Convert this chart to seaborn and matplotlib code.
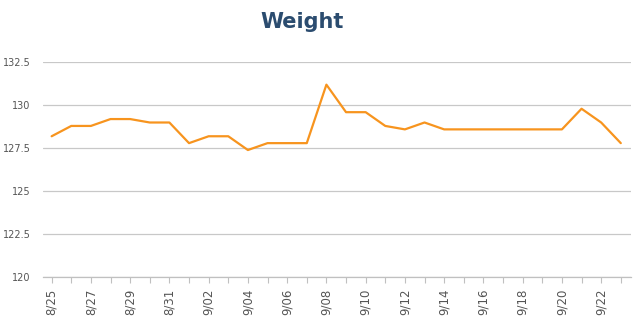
import matplotlib
matplotlib.use("Agg")
import matplotlib.pyplot as plt
import seaborn as sns
import pandas as pd
import numpy as np

dates = ["8/25", "8/26", "8/27", "8/28", "8/29", "8/30", "8/31", "9/01", "9/02", "9/03",
         "9/04", "9/05", "9/06", "9/07", "9/08", "9/09", "9/10", "9/11", "9/12", "9/13",
         "9/14", "9/15", "9/16", "9/17", "9/18", "9/19", "9/20", "9/21", "9/22", "9/23"]
weight = [128.2, 128.8, 128.8, 129.2, 129.2, 129.0, 129.0, 127.8, 128.2, 128.2,
          127.4, 127.8, 127.8, 127.8, 131.2, 129.6, 129.6, 128.8, 128.6, 129.0,
          128.6, 128.6, 128.6, 128.6, 128.6, 128.6, 128.6, 129.8, 129.0, 127.8]
yticks = [120, 122.5, 125, 127.5, 130, 132.5]
ytick_labels = ["120", "122.5", "125", "127.5", "130", "132.5"]

df = pd.DataFrame({"idx": range(len(dates)), "date": dates, "weight": weight})

sns.set_theme(style="white")
plt.rcParams["font.family"] = ["DejaVu Sans"]

fig = plt.figure(figsize=(6.39, 3.24), dpi=100)
ax = fig.add_axes([43 / 639, 1 - 277.3 / 324, (631 - 43) / 639, (277.3 - 62.3) / 324])

sns.lineplot(data=df, x="idx", y="weight", ax=ax, color="#f7941e", linewidth=1.6)

ax.set_ylim(120, 132.5)
ax.set_xlim(-0.44, 29.52)
ax.set_yticks(yticks)
ax.set_yticklabels(ytick_labels)
ax.yaxis.grid(True, color="#c8c8c8", linewidth=0.9)
ax.set_axisbelow(True)

ax.set_xticks(df["idx"])
ax.set_xticklabels([d if i % 2 == 0 else "" for i, d in enumerate(dates)], rotation=90)
ax.tick_params(axis="x", length=4, width=0.8, color="#c0c0c0", direction="out",
               labelsize=8.5, labelcolor="#555555", pad=4, bottom=True)
ax.tick_params(axis="y", length=0, labelsize=7, labelcolor="#555555", pad=9)

for s in ["top", "right", "left"]:
    ax.spines[s].set_visible(False)
ax.spines["bottom"].set_color("#c0c0c0")
ax.spines["bottom"].set_linewidth(0.9)

ax.set_xlabel("")
ax.set_ylabel("")
fig.text(302 / 639, 1 - 22 / 324, "Weight", ha="center", va="center",
         fontsize=15, fontweight="bold", color="#2b4c6f")

fig.savefig("out.png", dpi=100)
